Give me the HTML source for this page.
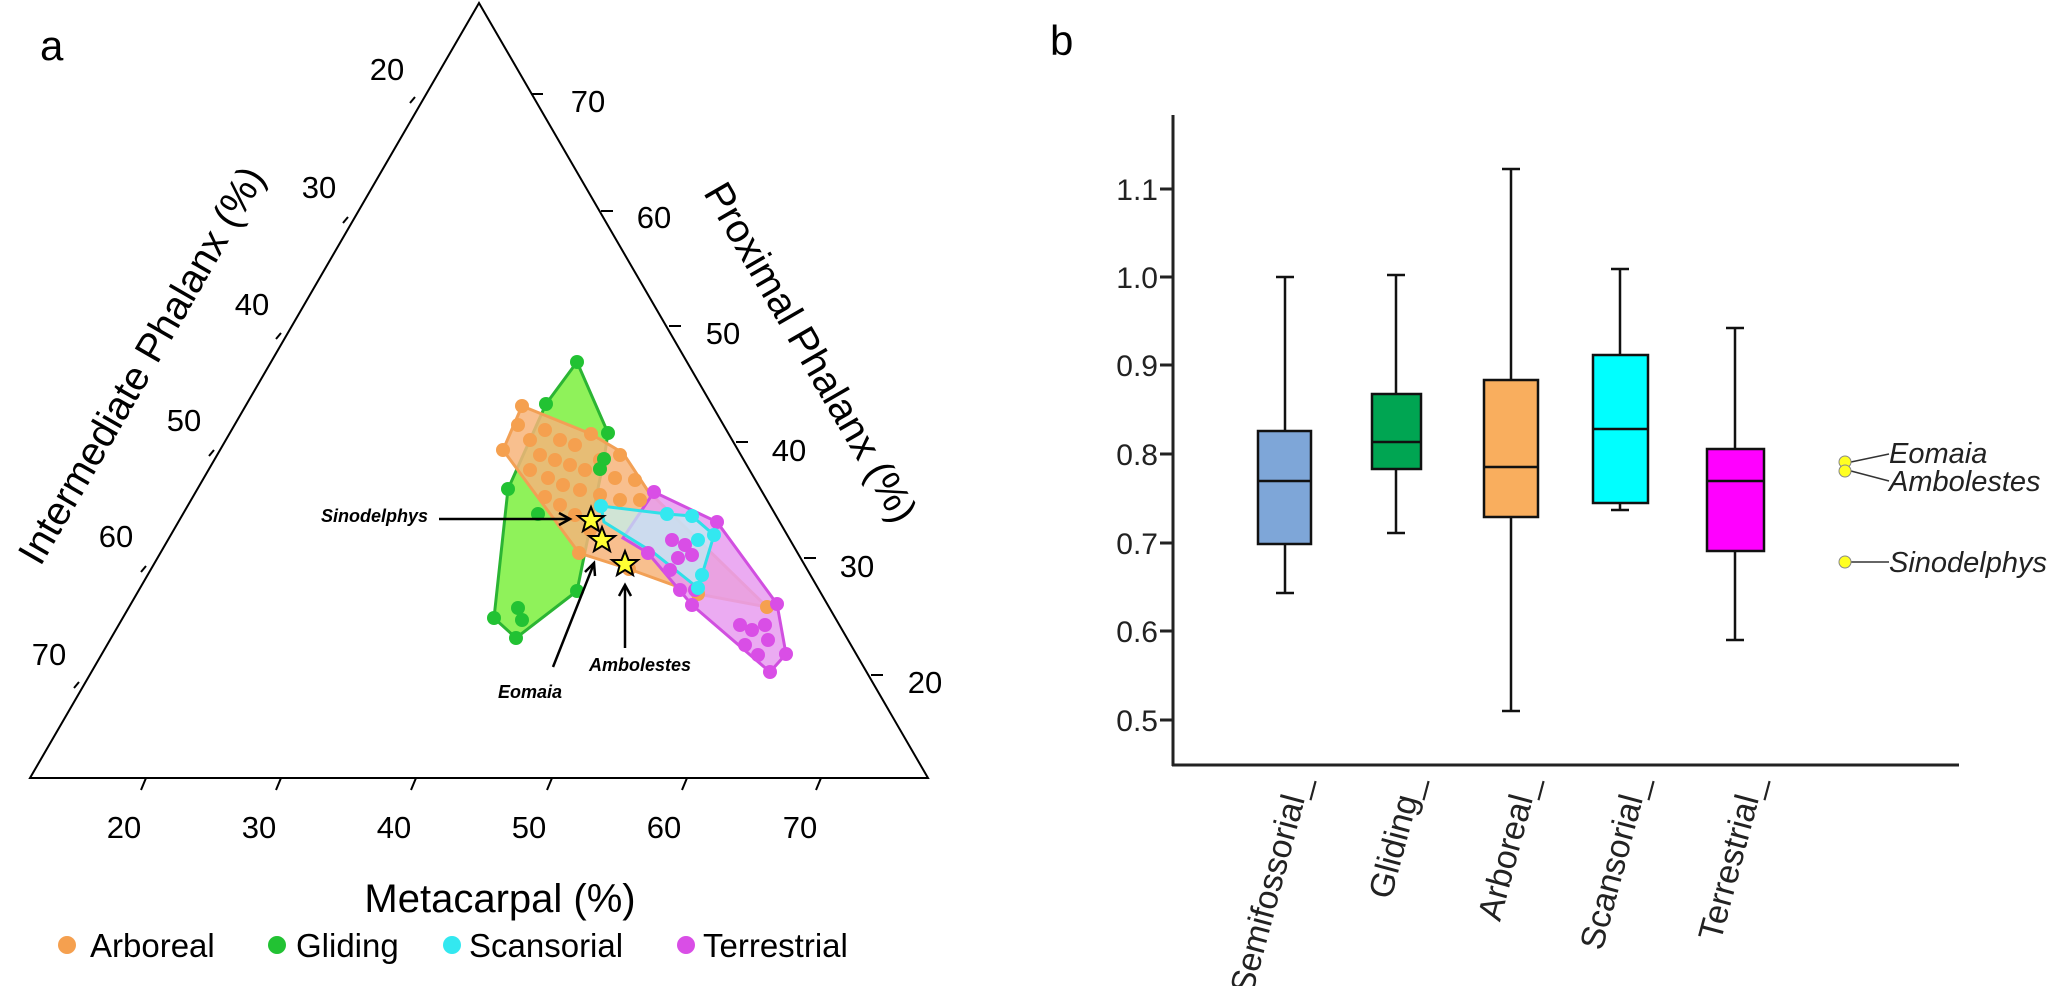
<!DOCTYPE html>
<html><head><meta charset="utf-8"><style>
html,body{margin:0;padding:0;background:#fff;}
svg{display:block;font-family:"Liberation Sans",Arial,sans-serif;}
</style></head><body>
<svg width="2050" height="986" viewBox="0 0 2050 986" xmlns="http://www.w3.org/2000/svg">
<rect width="2050" height="986" fill="#fff"/>
<!-- Panel a -->
<text x="40" y="60" font-size="42">a</text>
<polygon points="479,3 30,778 928,778" fill="none" stroke="#000" stroke-width="2"/>
<g stroke="#000" stroke-width="2">
<line x1="146" y1="778" x2="141" y2="790"/><line x1="281" y1="778" x2="276" y2="790"/><line x1="416" y1="778" x2="411" y2="790"/><line x1="552" y1="778" x2="547" y2="790"/><line x1="687" y1="778" x2="682" y2="790"/><line x1="821" y1="778" x2="816" y2="790"/>
<line x1="415" y1="97" x2="410" y2="103"/><line x1="348" y1="217" x2="343" y2="223"/><line x1="281" y1="333" x2="276" y2="339"/><line x1="214" y1="450" x2="209" y2="456"/><line x1="146" y1="566" x2="141" y2="572"/><line x1="79" y1="682" x2="74" y2="688"/>
<line x1="531" y1="94" x2="543" y2="94"/><line x1="601" y1="211" x2="613" y2="211"/><line x1="669" y1="326" x2="681" y2="326"/><line x1="736" y1="442" x2="748" y2="442"/><line x1="804" y1="558" x2="816" y2="558"/><line x1="871" y1="675" x2="883" y2="675"/>
</g>
<g font-size="31" text-anchor="middle">
<text x="124" y="838">20</text><text x="259" y="838">30</text><text x="394" y="838">40</text><text x="529" y="838">50</text><text x="664" y="838">60</text><text x="800" y="838">70</text>
<text x="387" y="80">20</text><text x="319" y="198">30</text><text x="252" y="315">40</text><text x="184" y="431">50</text><text x="116" y="547">60</text><text x="49" y="665">70</text>
<text x="588" y="112">70</text><text x="654" y="228">60</text><text x="723" y="344">50</text><text x="789" y="461">40</text><text x="857" y="577">30</text><text x="925" y="693">20</text>
</g>
<text x="141" y="365" font-size="40" text-anchor="middle" transform="rotate(-60 141 365)" dy="14">Intermediate Phalanx (%)</text>
<text x="811" y="352" font-size="40" text-anchor="middle" transform="rotate(60 811 352)" dy="14">Proximal Phalanx (%)</text>
<text x="500" y="912" font-size="40" text-anchor="middle">Metacarpal (%)</text>
<!-- hulls -->
<polygon points="577,362 608,433 604,459 577,591 516,638 494,618 508,489 546,404" fill="#8ff25a" stroke="#2bb533" stroke-width="3"/>
<polygon points="522,406 591,434 623,453 648,491 767,607 698,594 629,569 579,553 503,450" fill="#f7b47a" fill-opacity="0.85" stroke="#f2a055" stroke-width="3"/>
<polygon points="654,492 717,522 777,604 786,654 770,672 692,605 648,553 623,538" fill="#e79cf0" fill-opacity="0.85" stroke="#d14fe0" stroke-width="3"/>
<polygon points="601,506 667,514 692,516 714,535 698,588 654,553 604,522" fill="#bff4f4" fill-opacity="0.7" stroke="#2fe0e8" stroke-width="3"/>
<g fill="#f5a04f">
<circle cx="522" cy="406" r="7"/><circle cx="503" cy="450" r="7"/><circle cx="518" cy="425" r="7"/><circle cx="530" cy="440" r="7"/><circle cx="545" cy="430" r="7"/><circle cx="560" cy="440" r="7"/><circle cx="575" cy="445" r="7"/><circle cx="591" cy="434" r="7"/><circle cx="540" cy="455" r="7"/><circle cx="555" cy="460" r="7"/><circle cx="570" cy="465" r="7"/><circle cx="585" cy="470" r="7"/><circle cx="530" cy="470" r="7"/><circle cx="548" cy="478" r="7"/><circle cx="563" cy="485" r="7"/><circle cx="580" cy="490" r="7"/><circle cx="600" cy="460" r="7"/><circle cx="620" cy="455" r="7"/><circle cx="615" cy="478" r="7"/><circle cx="635" cy="480" r="7"/><circle cx="600" cy="495" r="7"/><circle cx="560" cy="505" r="7"/><circle cx="575" cy="515" r="7"/><circle cx="590" cy="530" r="7"/><circle cx="579" cy="553" r="7"/><circle cx="620" cy="500" r="7"/><circle cx="640" cy="500" r="7"/><circle cx="545" cy="497" r="7"/><circle cx="629" cy="569" r="7"/><circle cx="767" cy="607" r="7"/><circle cx="698" cy="594" r="7"/>
</g>
<g fill="#22c233">
<circle cx="577" cy="362" r="7"/><circle cx="546" cy="404" r="7"/><circle cx="608" cy="433" r="7"/><circle cx="604" cy="459" r="7"/><circle cx="600" cy="469" r="7"/><circle cx="508" cy="489" r="7"/><circle cx="538" cy="514" r="7"/><circle cx="577" cy="591" r="7"/><circle cx="494" cy="618" r="7"/><circle cx="518" cy="608" r="7"/><circle cx="522" cy="620" r="7"/><circle cx="516" cy="638" r="7"/>
</g>
<g fill="#d94ee6">
<circle cx="654" cy="492" r="7"/><circle cx="717" cy="522" r="7"/><circle cx="672" cy="540" r="7"/><circle cx="685" cy="545" r="7"/><circle cx="678" cy="558" r="7"/><circle cx="692" cy="555" r="7"/><circle cx="670" cy="570" r="7"/><circle cx="648" cy="553" r="7"/><circle cx="692" cy="605" r="7"/><circle cx="680" cy="590" r="7"/><circle cx="695" cy="590" r="7"/><circle cx="777" cy="604" r="7"/><circle cx="740" cy="625" r="7"/><circle cx="752" cy="630" r="7"/><circle cx="765" cy="625" r="7"/><circle cx="768" cy="640" r="7"/><circle cx="786" cy="654" r="7"/><circle cx="770" cy="672" r="7"/><circle cx="745" cy="645" r="7"/><circle cx="758" cy="655" r="7"/>
</g>
<g fill="#33e8f0">
<circle cx="601" cy="506" r="7"/><circle cx="667" cy="514" r="7"/><circle cx="692" cy="516" r="7"/><circle cx="714" cy="535" r="7"/><circle cx="698" cy="540" r="7"/><circle cx="702" cy="575" r="7"/><circle cx="698" cy="588" r="7"/>
</g>
<g fill="#ffff33" stroke="#000" stroke-width="2">
<polygon points="591,507 594.5,516 604,516 596.5,522 599,531 591,526 583,531 585.5,522 578,516 587.5,516"/>
<polygon points="602,527 605.5,536 615,536 607.5,542 610,551 602,546 594,551 596.5,542 589,536 598.5,536"/>
<polygon points="625,551 628.5,560 638,560 630.5,566 633,575 625,570 617,575 619.5,566 612,560 621.5,560"/>
</g>
<g stroke="#000" stroke-width="2.5" fill="none">
<line x1="439" y1="519" x2="568" y2="519"/><polyline points="559,513 570,519 559,525"/>
<line x1="553" y1="667" x2="593" y2="566"/><polyline points="585,572 594,563 595,576"/>
<line x1="625" y1="648" x2="625" y2="587"/><polyline points="619,596 625,585 631,596"/>
</g>
<g font-size="18" font-weight="bold" font-style="italic">
<text x="428" y="522" text-anchor="end">Sinodelphys</text>
<text x="530" y="698" text-anchor="middle">Eomaia</text>
<text x="640" y="671" text-anchor="middle">Ambolestes</text>
</g>
<!-- legend -->
<g font-size="33">
<circle cx="67" cy="945" r="9" fill="#f5a04f"/><text x="90" y="957">Arboreal</text>
<circle cx="277" cy="945" r="9" fill="#22c233"/><text x="296" y="957">Gliding</text>
<circle cx="452" cy="945" r="9" fill="#33e8f0"/><text x="469" y="957">Scansorial</text>
<circle cx="686" cy="945" r="9" fill="#d94ee6"/><text x="703" y="957">Terrestrial</text>
</g>
<!-- Panel b -->
<text x="1050" y="55" font-size="42">b</text>
<g stroke="#222" stroke-width="3" fill="none">
<line x1="1173" y1="115" x2="1173" y2="766"/><line x1="1172" y1="765" x2="1959" y2="765"/>
<line x1="1160" y1="189" x2="1173" y2="189"/><line x1="1160" y1="277" x2="1173" y2="277"/><line x1="1160" y1="365" x2="1173" y2="365"/><line x1="1160" y1="454" x2="1173" y2="454"/><line x1="1160" y1="543" x2="1173" y2="543"/><line x1="1160" y1="631" x2="1173" y2="631"/><line x1="1160" y1="720" x2="1173" y2="720"/>
</g>
<g font-size="30" text-anchor="end" fill="#222">
<text x="1158" y="200">1.1</text><text x="1158" y="288">1.0</text><text x="1158" y="376">0.9</text><text x="1158" y="465">0.8</text><text x="1158" y="554">0.7</text><text x="1158" y="642">0.6</text><text x="1158" y="731">0.5</text>
</g>
<g stroke="#111" stroke-width="2.5">
<line x1="1285" y1="277" x2="1285" y2="593"/><line x1="1276" y1="277" x2="1294" y2="277"/><line x1="1276" y1="593" x2="1294" y2="593"/>
<rect x="1258" y="431" width="53" height="113" fill="#7ea6d8"/><line x1="1258" y1="481" x2="1311" y2="481"/>
<line x1="1396" y1="275" x2="1396" y2="533"/><line x1="1387" y1="275" x2="1405" y2="275"/><line x1="1387" y1="533" x2="1405" y2="533"/>
<rect x="1372" y="394" width="49" height="75" fill="#00a552"/><line x1="1372" y1="442" x2="1421" y2="442"/>
<line x1="1511" y1="169" x2="1511" y2="711"/><line x1="1502" y1="169" x2="1520" y2="169"/><line x1="1502" y1="711" x2="1520" y2="711"/>
<rect x="1484" y="380" width="54" height="137" fill="#f9ae5e"/><line x1="1484" y1="467" x2="1538" y2="467"/>
<line x1="1620" y1="269" x2="1620" y2="510"/><line x1="1611" y1="269" x2="1629" y2="269"/><line x1="1611" y1="510" x2="1629" y2="510"/>
<rect x="1593" y="355" width="55" height="148" fill="#00ffff"/><line x1="1593" y1="429" x2="1648" y2="429"/>
<line x1="1735" y1="328" x2="1735" y2="640"/><line x1="1726" y1="328" x2="1744" y2="328"/><line x1="1726" y1="640" x2="1744" y2="640"/>
<rect x="1707" y="449" width="57" height="102" fill="#ff00ff"/><line x1="1707" y1="481" x2="1764" y2="481"/>
</g>
<g font-size="34" text-anchor="end" fill="#222">
<text transform="translate(1310,780) rotate(-75)">Semifossorial_</text>
<text transform="translate(1423,780) rotate(-75)">Gliding_</text>
<text transform="translate(1538,780) rotate(-75)">Arboreal_</text>
<text transform="translate(1648,780) rotate(-75)">Scansorial_</text>
<text transform="translate(1764,780) rotate(-75)">Terrestrial_</text>
</g>
<g stroke="#333" stroke-width="1.5">
<line x1="1851" y1="462" x2="1889" y2="454"/><line x1="1851" y1="471" x2="1889" y2="481"/><line x1="1851" y1="562" x2="1889" y2="562"/>
</g>
<g fill="#ffff22" stroke="#888" stroke-width="1">
<circle cx="1845" cy="462" r="6"/><circle cx="1845" cy="471" r="6"/><circle cx="1845" cy="562" r="6"/>
</g>
<g font-size="29" font-style="italic" fill="#222">
<text x="1889" y="463">Eomaia</text><text x="1889" y="491">Ambolestes</text><text x="1889" y="572">Sinodelphys</text>
</g>
</svg>
</body></html>
